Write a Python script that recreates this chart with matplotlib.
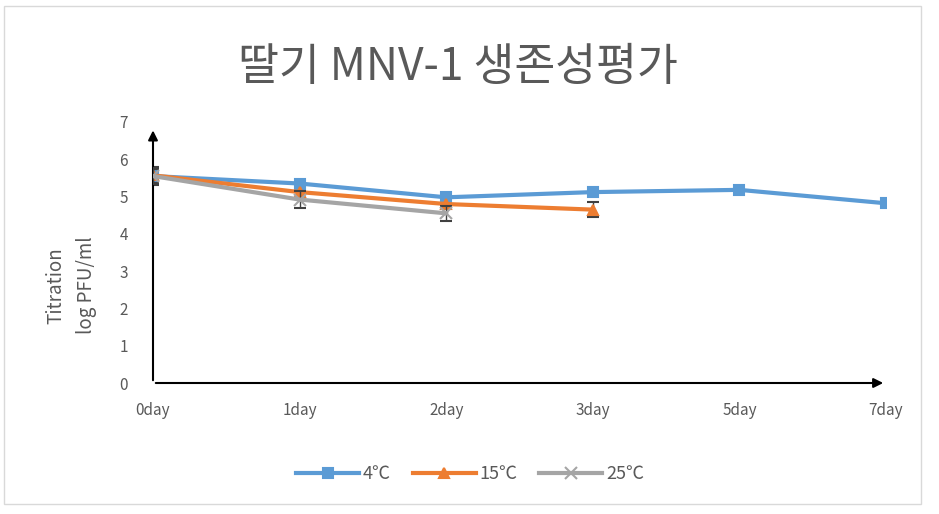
import numpy as np
import matplotlib.pyplot as plt
from matplotlib.patches import Rectangle
from matplotlib.lines import Line2D

plt.rcParams['font.family'] = ['Noto Sans CJK KR', 'DejaVu Sans']

# ---------------- Data ---------------- #
days = ['0day', '1day', '2day', '3day', '5day', '7day']
temp_4 = [5.55, 5.35, 4.98, 5.12, 5.18, 4.82]
temp_15 = [5.57, 5.12, 4.80, 4.65]
temp_25 = [5.55, 4.92, 4.55]
err_4 = [0.25, 0.0, 0.0, 0.0, 0.0, 0.0]
err_15 = [0.2, 0.0, 0.0, 0.2]
err_25 = [0.2, 0.22, 0.2]
labels = ['4℃', '15℃', '25℃']

BLUE = '#5b9bd5'
ORANGE = '#ed7d31'
GRAY = '#a5a5a5'
TXT = '#595959'

fig = plt.figure(figsize=(9.39, 5.14), dpi=100)
fig.patches.append(Rectangle((4 / 939, 1 - 504 / 514), 917 / 939, 498 / 514,
                             transform=fig.transFigure, fill=False,
                             edgecolor='#d9d9d9', linewidth=1))
ax = fig.add_axes([153 / 939, 1 - 383 / 514, (886 - 153) / 939, (383 - 122) / 514])

x = np.arange(len(days))
styles = [(temp_4, err_4, BLUE, 's', 7), (temp_15, err_15, ORANGE, '^', 7), (temp_25, err_25, GRAY, 'x', 8)]
handles = []
for i, (vals, errs, col, mk, ms) in enumerate(styles):
    ax.errorbar(x[:len(vals)], vals, yerr=errs, color=col, marker=mk, markersize=ms, mew=1.5, lw=3,
                ecolor='#404040', elinewidth=1, capsize=4, zorder=3 + i)
    handles.append(Line2D([], [], color=col, marker=mk, markersize=ms, mew=1.5, lw=3, label=labels[i]))

ax.set_xlim(0, len(days) - 1)
ax.set_ylim(0, 7)
for s in ax.spines.values():
    s.set_visible(False)
ax.set_xticks(x)
ax.set_xticklabels(days)
ax.set_yticks(range(8))
ax.tick_params(length=0, colors=TXT, labelsize=11)
ax.tick_params(axis='x', pad=14)
ax.tick_params(axis='y', pad=18)

# axes with arrows
ax.annotate('', xy=(5.0, 0), xytext=(0, 0), xycoords='data',
            arrowprops=dict(arrowstyle='-|>', color='black', lw=1.5, mutation_scale=14),
            annotation_clip=False)
ax.annotate('', xy=(0, 6.85), xytext=(0, 0), xycoords='data',
            arrowprops=dict(arrowstyle='-|>', color='black', lw=1.5, mutation_scale=14),
            annotation_clip=False)

ax.set_ylabel('Titration\nlog PFU/ml', color=TXT, fontsize=13.5, linespacing=1.6)
ax.yaxis.set_label_coords(-0.076, 0.375)

fig.text(458 / 939, 1 - 67 / 514, '딸기 MNV-1 생존성평가', ha='center', va='center',
         fontsize=32, color=TXT, fontweight='light')

leg = fig.legend(handles=handles, loc='center', bbox_to_anchor=(470 / 939, 1 - 474 / 514), ncol=3,
                 frameon=False, fontsize=13, handlelength=3.5, columnspacing=1.2,
                 handletextpad=0.2)
for t in leg.get_texts():
    t.set_color(TXT)

fig.savefig('out.png', dpi=100)
